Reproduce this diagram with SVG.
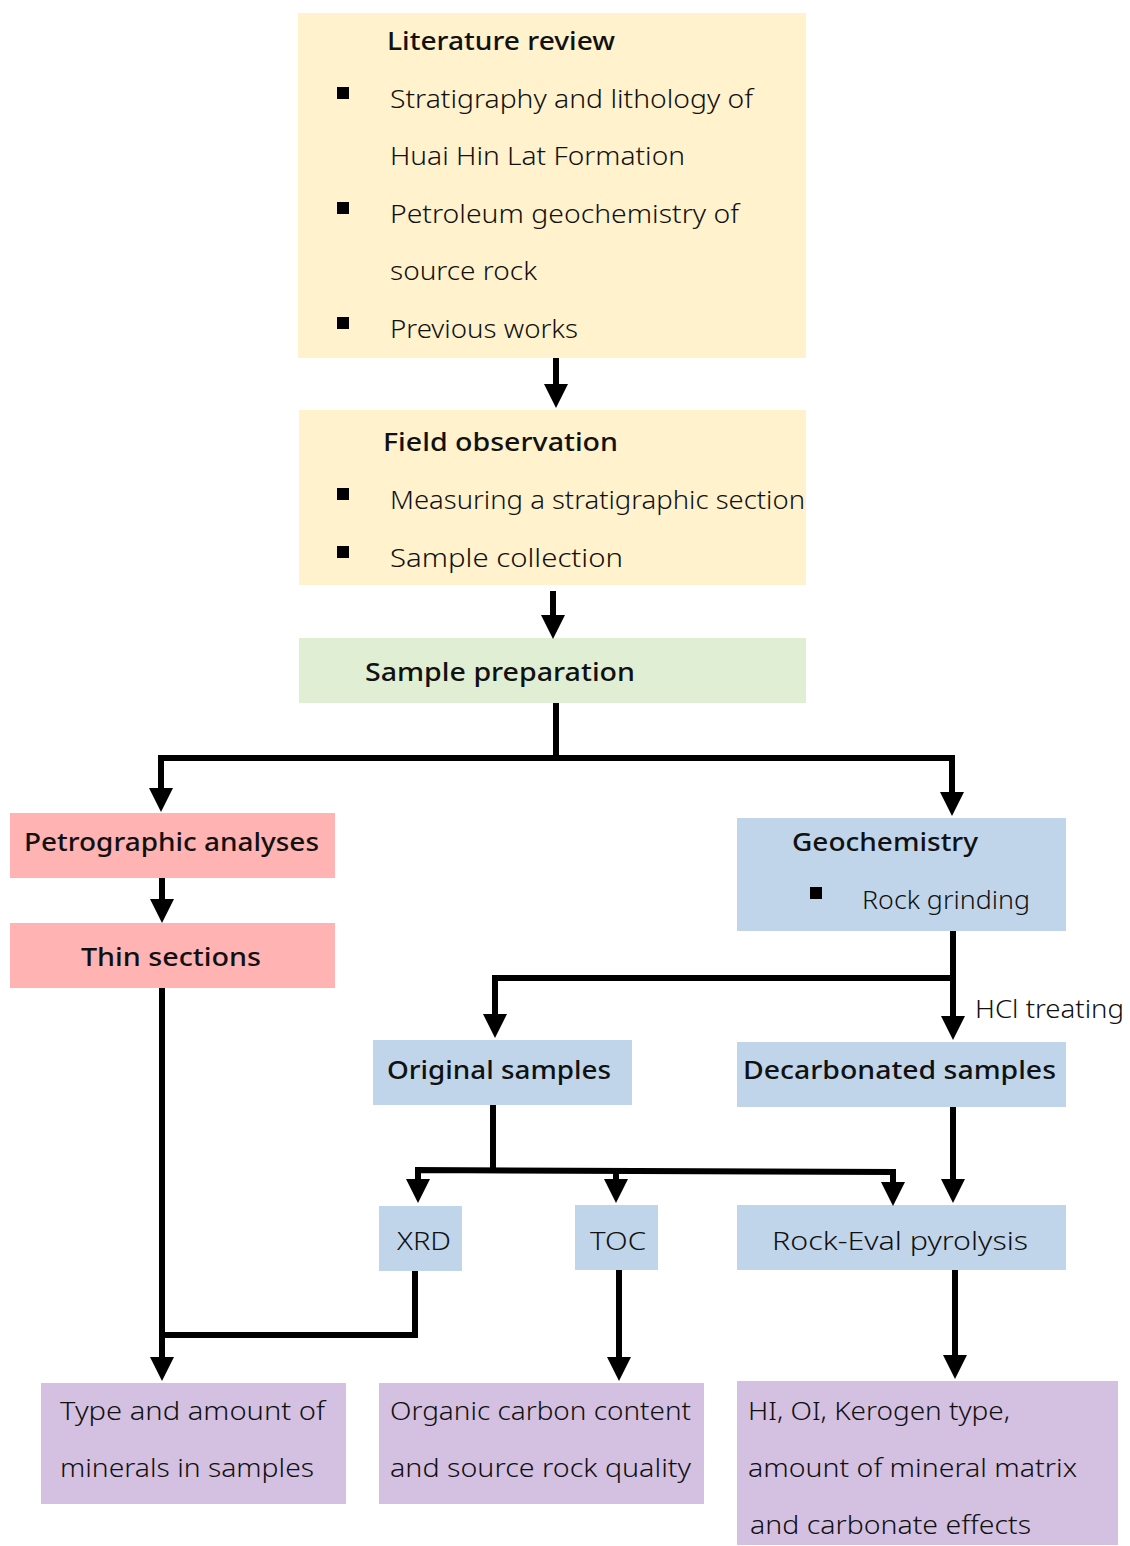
<svg xmlns="http://www.w3.org/2000/svg" width="1130" height="1546" viewBox="0 0 1130 1546">
<style>
.t{font-family:"Noto Sans","Open Sans",sans-serif;font-size:26px;fill:#111;font-weight:300;}
.b{font-weight:500;}
.c{fill:none;stroke:#000;stroke-width:6;stroke-linejoin:miter;}
.y{fill:#FFF2CC;}.g{fill:#E0EFD4;}.p{fill:#FFB3B3;}.bl{fill:#C0D5EA;}.v{fill:#D4C0E1;}
</style>
<defs>
<marker id="ah" viewBox="0 0 24 24" refX="2" refY="12" markerWidth="24" markerHeight="24" markerUnits="userSpaceOnUse" orient="auto-start-reverse">
<path d="M0,0 L24,12 L0,24 z" fill="#000"/>
</marker>
</defs>
<rect width="1130" height="1546" fill="#fff"/>

<g id="literature-review">
<rect class="y" x="298" y="13" width="508" height="345"/>
<text class="t b" x="387" y="50" textLength="228" lengthAdjust="spacingAndGlyphs">Literature review</text>
<rect x="337" y="87" width="12" height="12"/>
<text class="t" x="390" y="108" textLength="363" lengthAdjust="spacingAndGlyphs">Stratigraphy and lithology of</text>
<text class="t" x="390" y="165" textLength="295" lengthAdjust="spacingAndGlyphs">Huai Hin Lat Formation</text>
<rect x="337" y="202" width="12" height="12"/>
<text class="t" x="390" y="223" textLength="349" lengthAdjust="spacingAndGlyphs">Petroleum geochemistry of</text>
<text class="t" x="390" y="280" textLength="147" lengthAdjust="spacingAndGlyphs">source rock</text>
<rect x="337" y="317" width="12" height="12"/>
<text class="t" x="390" y="338" textLength="188" lengthAdjust="spacingAndGlyphs">Previous works</text>
</g>

<g id="field-observation">
<rect class="y" x="299" y="410" width="507" height="175"/>
<text class="t b" x="383" y="451" textLength="235" lengthAdjust="spacingAndGlyphs">Field observation</text>
<rect x="337" y="488" width="12" height="12"/>
<text class="t" x="390" y="509" textLength="415" lengthAdjust="spacingAndGlyphs">Measuring a stratigraphic section</text>
<rect x="337" y="546" width="12" height="12"/>
<text class="t" x="390" y="567" textLength="233" lengthAdjust="spacingAndGlyphs">Sample collection</text>
</g>

<g id="sample-preparation">
<rect class="g" x="299" y="638" width="507" height="65"/>
<text class="t b" x="365" y="681" textLength="270" lengthAdjust="spacingAndGlyphs">Sample preparation</text>
</g>

<g id="petrographic-analyses">
<rect class="p" x="10" y="813" width="325" height="65"/>
<text class="t b" x="24" y="851" textLength="295" lengthAdjust="spacingAndGlyphs">Petrographic analyses</text>
</g>

<g id="thin-sections">
<rect class="p" x="10" y="923" width="325" height="65"/>
<text class="t b" x="81" y="966" textLength="180" lengthAdjust="spacingAndGlyphs">Thin sections</text>
</g>

<g id="geochemistry">
<rect class="bl" x="737" y="818" width="329" height="113"/>
<text class="t b" x="792" y="851" textLength="186" lengthAdjust="spacingAndGlyphs">Geochemistry</text>
<rect x="810" y="887" width="12" height="12"/>
<text class="t" x="862" y="909" textLength="168" lengthAdjust="spacingAndGlyphs">Rock grinding</text>
</g>

<g id="original-samples">
<rect class="bl" x="373" y="1040" width="259" height="65"/>
<text class="t b" x="387" y="1079" textLength="224" lengthAdjust="spacingAndGlyphs">Original samples</text>
</g>

<g id="decarbonated-samples">
<rect class="bl" x="737" y="1042" width="329" height="65"/>
<text class="t b" x="743" y="1079" textLength="313" lengthAdjust="spacingAndGlyphs">Decarbonated samples</text>
</g>

<g id="xrd">
<rect class="bl" x="379" y="1206" width="83" height="65"/>
<text class="t" x="397" y="1250" textLength="54" lengthAdjust="spacingAndGlyphs">XRD</text>
</g>

<g id="toc">
<rect class="bl" x="575" y="1205" width="83" height="65"/>
<text class="t" x="590" y="1250" textLength="56" lengthAdjust="spacingAndGlyphs">TOC</text>
</g>

<g id="rock-eval">
<rect class="bl" x="737" y="1205" width="329" height="65"/>
<text class="t" x="772" y="1250" textLength="256" lengthAdjust="spacingAndGlyphs">Rock-Eval pyrolysis</text>
</g>

<g id="minerals-result">
<rect class="v" x="41" y="1383" width="305" height="121"/>
<text class="t" x="60" y="1420" textLength="265" lengthAdjust="spacingAndGlyphs">Type and amount of</text>
<text class="t" x="60" y="1477" textLength="254" lengthAdjust="spacingAndGlyphs">minerals in samples</text>
</g>

<g id="organic-result">
<rect class="v" x="379" y="1383" width="325" height="121"/>
<text class="t" x="390" y="1420" textLength="301" lengthAdjust="spacingAndGlyphs">Organic carbon content</text>
<text class="t" x="390" y="1477" textLength="301" lengthAdjust="spacingAndGlyphs">and source rock quality</text>
</g>

<g id="pyrolysis-result">
<rect class="v" x="737" y="1381" width="381" height="164"/>
<text class="t" x="748" y="1420" textLength="262" lengthAdjust="spacingAndGlyphs">HI, OI, Kerogen type,</text>
<text class="t" x="748" y="1477" textLength="329" lengthAdjust="spacingAndGlyphs">amount of mineral matrix</text>
<text class="t" x="750" y="1534" textLength="281" lengthAdjust="spacingAndGlyphs">and carbonate effects</text>
</g>

<g id="connectors">
<path class="c" d="M556,358 V386" marker-end="url(#ah)"/>
<path class="c" d="M553,591 V617" marker-end="url(#ah)"/>
<path class="c" d="M556,703 V758"/>
<path class="c" d="M161,790 V758 H952 V794" marker-start="url(#ah)" marker-end="url(#ah)"/>
<path class="c" d="M162,878 V901" marker-end="url(#ah)"/>
<path class="c" d="M162,988 V1359" marker-end="url(#ah)"/>
<path class="c" d="M415,1271 V1335 H162"/>
<path class="c" d="M953,931 V1018" marker-end="url(#ah)"/>
<path class="c" d="M495,1016 V978 H953" marker-start="url(#ah)"/>
<path class="c" d="M493,1105 V1170"/>
<path class="c" d="M418,1181 V1170 L893,1172 V1184" marker-start="url(#ah)" marker-end="url(#ah)"/>
<path class="c" d="M616,1171 V1181" marker-end="url(#ah)"/>
<path class="c" d="M953,1107 V1181" marker-end="url(#ah)"/>
<path class="c" d="M619,1270 V1359" marker-end="url(#ah)"/>
<path class="c" d="M955,1270 V1357" marker-end="url(#ah)"/>
<text class="t" x="975" y="1018" textLength="149" lengthAdjust="spacingAndGlyphs">HCl treating</text>
</g>
</svg>
